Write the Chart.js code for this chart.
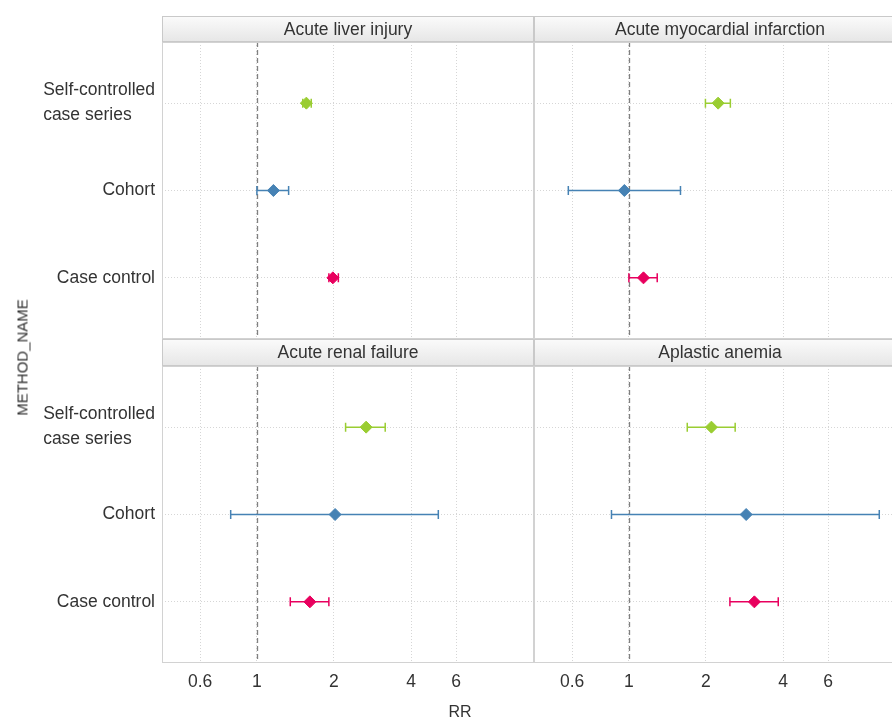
<!DOCTYPE html>
<html>
<head>
<meta charset="utf-8">
<script src="https://cdn.jsdelivr.net/npm/chart.js@4"></script>
<style>
  html, body { margin: 0; padding: 0; background: #fff; overflow: hidden; }
  #wrap { position: relative; width: 892px; height: 721px; overflow: hidden; }
  canvas { position: absolute; }
  .lbl { position: absolute; color: #333; font-family: 'Liberation Sans', Arial, sans-serif; white-space: nowrap; }
</style>
</head>
<body>
<div id="wrap">
  <canvas id="tl" width="536" height="341" style="left:0;top:0"></canvas>
  <canvas id="tr" width="376" height="341" style="left:532px;top:0"></canvas>
  <canvas id="bl" width="536" height="382" style="left:0;top:339px"></canvas>
  <canvas id="br" width="376" height="382" style="left:532px;top:339px"></canvas>
  <div class="lbl" style="left:440px;top:703px;width:40px;text-align:center;font-size:16px">RR</div>
  <div class="lbl" style="left:-38px;top:349px;width:120px;text-align:center;font-size:15px;transform:rotate(-90deg)">METHOD_NAME</div>
</div>
<script>
// values (RR with 95% CI)
const outcomes = ['Acute liver injury', 'Acute myocardial infarction', 'Acute renal failure', 'Aplastic anemia'];
const methods = ['Self-controlled\ncase series', 'Cohort', 'Case control'];
const methodPos = [2, 1, 0];
const methodColors = ['#9ACD32', '#4682B4', '#E8005E'];

const rrSccs = [1.56, 2.23, 2.67, 2.10];
const loSccs = [1.51, 1.99, 2.22, 1.69];
const hiSccs = [1.63, 2.49, 3.17, 2.60];
const rrCohort = [1.16, 0.96, 2.02, 2.87];
const loCohort = [1.00, 0.58, 0.79, 0.855];
const hiCohort = [1.33, 1.59, 5.11, 9.50];
const rrCc = [1.98, 1.14, 1.61, 3.09];
const loCc = [1.91, 1.00, 1.35, 2.48];
const hiCc = [2.08, 1.29, 1.91, 3.83];

const xTicks = [0.6, 1, 2, 4, 6];
const refLine = 1;

const FONT = "'Liberation Sans', Arial, sans-serif";
const TXT = '#333333';

const facetPlugin = {
  id: 'facet',
  beforeDraw(chart, args, opts) {
    const { ctx, chartArea: a } = chart;
    const h = opts.stripH;
    const top = a.top - h;
    ctx.save();
    const g = ctx.createLinearGradient(0, top, 0, a.top);
    g.addColorStop(0, '#fbfbfb');
    g.addColorStop(1, '#e6e6e6');
    ctx.fillStyle = g;
    ctx.fillRect(a.left, top, a.right - a.left, h);
    ctx.strokeStyle = '#c9c9c9';
    ctx.lineWidth = 1;
    ctx.strokeRect(a.left + 0.5, top + 0.5, a.right - a.left - 1, h - 1);
    ctx.fillStyle = TXT;
    ctx.font = '17.5px ' + FONT;
    ctx.textAlign = 'center';
    ctx.textBaseline = 'middle';
    ctx.fillText(opts.title, (a.left + a.right) / 2, top + h / 2 + 1);
    ctx.restore();
  },
  beforeDatasetsDraw(chart) {
    const { ctx, chartArea: a, scales } = chart;
    const xs = scales.x, ys = scales.y;
    ctx.save();
    // reference line at RR = 1
    const rx = Math.round(xs.getPixelForValue(refLine)) + 0.5;
    ctx.strokeStyle = '#808080';
    ctx.lineWidth = 1.3;
    ctx.setLineDash([5, 3]);
    ctx.beginPath();
    ctx.moveTo(rx, a.top);
    ctx.lineTo(rx, a.bottom);
    ctx.stroke();
    ctx.setLineDash([]);
    // confidence intervals
    chart.data.datasets.forEach(ds => {
      ds.data.forEach(p => {
        const y = ys.getPixelForValue(p.y);
        const x1 = xs.getPixelForValue(p.lo);
        const x2 = xs.getPixelForValue(p.hi);
        ctx.strokeStyle = ds.borderColor;
        ctx.lineWidth = 1.5;
        ctx.beginPath();
        ctx.moveTo(x1, y); ctx.lineTo(x2, y);
        ctx.moveTo(x1, y - 4.5); ctx.lineTo(x1, y + 4.5);
        ctx.moveTo(x2, y - 4.5); ctx.lineTo(x2, y + 4.5);
        ctx.stroke();
      });
    });
    ctx.restore();
  },
  afterDraw(chart, args, opts) {
    const { ctx, chartArea: a, scales } = chart;
    ctx.save();
    ctx.strokeStyle = '#d2d2d2';
    ctx.lineWidth = 1;
    ctx.strokeRect(a.left + 0.5, a.top + 0.5, a.right - a.left - 1, a.bottom - a.top - 1);
    if (opts.yLabels) {
      ctx.fillStyle = TXT;
      ctx.font = '17.5px ' + FONT;
      ctx.textBaseline = 'middle';
      const right = 155;
      methods.forEach((m, i) => {
        const y = scales.y.getPixelForValue(methodPos[i]);
        const lines = m.split('\n');
        if (lines.length > 1) {
          const w = Math.max(...lines.map(l => ctx.measureText(l).width));
          ctx.textAlign = 'left';
          lines.forEach((l, k) => ctx.fillText(l, right - w, y + (k - (lines.length - 1) / 2) * 25));
        } else {
          ctx.textAlign = 'right';
          ctx.fillText(m, right, y);
        }
      });
    }
    ctx.restore();
  }
};

function makePanel(id, idx, left, bottom) {
  const rr = [rrSccs[idx], rrCohort[idx], rrCc[idx]];
  const lo = [loSccs[idx], loCohort[idx], loCc[idx]];
  const hi = [hiSccs[idx], hiCohort[idx], hiCc[idx]];
  const datasets = methods.map((m, i) => ({
    label: m,
    data: [{ x: rr[i], y: methodPos[i], lo: lo[i], hi: hi[i] }],
    pointStyle: 'rectRot',
    pointRadius: 6,
    pointHoverRadius: 6,
    backgroundColor: methodColors[i],
    borderColor: methodColors[i],
    borderWidth: 1
  }));
  const canvas = document.getElementById(id);
  const xAxisH = bottom ? canvas.height - 27 - 297 : 0;
  return new Chart(canvas.getContext('2d'), {
    type: 'scatter',
    data: { datasets },
    options: {
      responsive: false,
      animation: false,
      layout: { autoPadding: false, padding: { top: bottom ? 27 : 42, right: 2, bottom: bottom ? 0 : 2, left: 0 } },
      plugins: {
        legend: { display: false },
        tooltip: { enabled: false },
        facet: { title: outcomes[idx], stripH: bottom ? 27 : 26, yLabels: left }
      },
      scales: {
        x: {
          type: 'logarithmic',
          min: 0.426,
          max: 12.08,
          afterBuildTicks: s => { s.ticks = xTicks.map(v => ({ value: v })); },
          afterFit: s => { s.height = xAxisH; },
          grid: { color: '#d6d6d6', lineWidth: 1, drawTicks: false },
          border: { display: false, dash: [1, 2] },
          ticks: {
            display: bottom,
            padding: 9,
            color: TXT,
            font: { family: FONT, size: 17.5 },
            maxRotation: 0,
            autoSkip: false,
            callback: v => String(v)
          }
        },
        y: {
          type: 'linear',
          min: -0.7,
          max: 2.7,
          afterBuildTicks: s => { s.ticks = methodPos.map(v => ({ value: v })); },
          afterFit: s => { s.width = left ? 162 : 2; },
          grid: { color: '#d6d6d6', lineWidth: 1, drawTicks: false },
          border: { display: false, dash: [1, 2] },
          ticks: { display: false }
        }
      }
    },
    plugins: [facetPlugin]
  });
}

makePanel('tl', 0, true, false);
makePanel('tr', 1, false, false);
makePanel('bl', 2, true, true);
makePanel('br', 3, false, true);
</script>
</body>
</html>
